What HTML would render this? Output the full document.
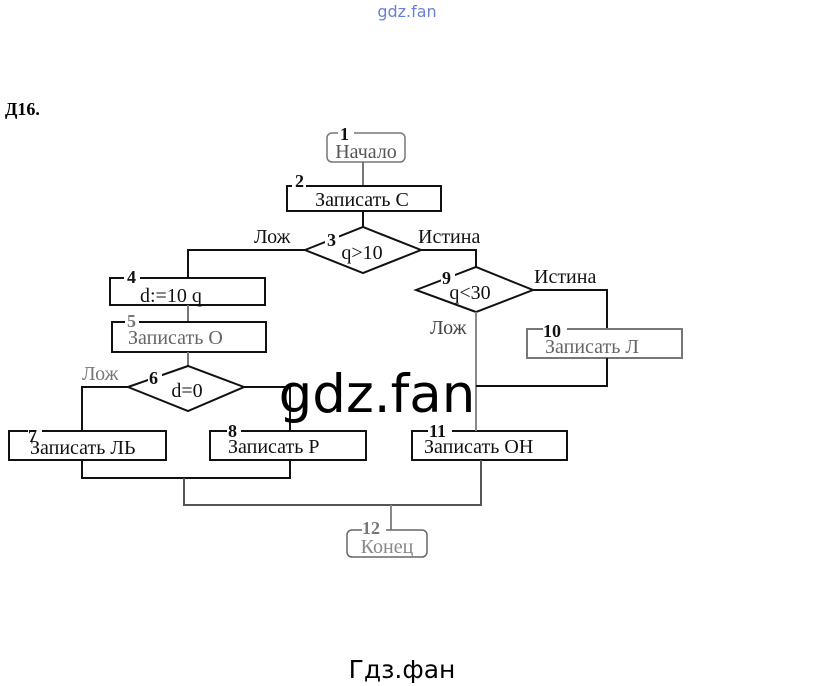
<!DOCTYPE html>
<html><head><meta charset="utf-8"><style>
html,body{margin:0;padding:0;background:#fff;width:815px;height:686px;overflow:hidden}
svg{display:block}
.t{font-family:"Liberation Serif",serif;font-size:20px;fill:#111}
.n{font-family:"Liberation Serif",serif;font-size:18px;font-weight:bold;fill:#111}
</style></head><body>
<svg width="815" height="686" viewBox="0 0 815 686" xmlns="http://www.w3.org/2000/svg">
<text x="407" y="17" text-anchor="middle" font-family="DejaVu Sans,sans-serif" font-size="16" fill="#6a7fd8">gdz.fan</text>
<text x="5" y="115" font-family="Liberation Serif,serif" font-size="18" font-weight="bold">Д16.</text>
<g fill="none" stroke="#111" stroke-width="2">
<rect x="327" y="133" width="78" height="29" rx="5" stroke="#777" stroke-width="1.5"/>
<line x1="363" y1="162" x2="363" y2="186" stroke="#777"/>
<rect x="287" y="186" width="154" height="25"/>
<line x1="363" y1="211" x2="363" y2="228"/>
<polygon points="305,250 363,227 421,250 363,273"/>
<polyline points="305,250 188,250 188,278"/>
<polyline points="421,250 476,250 476,267"/>
<rect x="110" y="278" width="155" height="27"/>
<line x1="188" y1="305" x2="188" y2="322" stroke="#777"/>
<rect x="112" y="322" width="154" height="30"/>
<line x1="188" y1="352" x2="188" y2="367" stroke="#777"/>
<polygon points="128,387 188,366 244,387 188,411"/>
<polyline points="128,387 82,387 82,431"/>
<polyline points="244,387 290,387 290,431"/>
<rect x="9" y="431" width="157" height="29"/>
<rect x="210" y="431" width="156" height="29"/>
<rect x="412" y="431" width="155" height="29"/>
<polygon points="416,290 476,267 533,290 476,312"/>
<polyline points="533,290 607,290 607,329"/>
<rect x="527" y="329" width="155" height="29" stroke="#777"/>
<line x1="476" y1="312" x2="476" y2="431" stroke="#888"/>
<polyline points="607,358 607,386 476,386"/>
<polyline points="82,460 82,478 290,478 290,460"/>
<polyline points="184,478 184,505 481,505 481,460" stroke="#555"/>
<line x1="391" y1="505" x2="391" y2="530" stroke="#888"/>
<rect x="347" y="530" width="80" height="27" rx="5" stroke="#666" stroke-width="1.5"/>
</g>
<g fill="#fff">
<rect x="338" y="126" width="16" height="14"/><rect x="292" y="176" width="14" height="14"/>
<rect x="325" y="232" width="14" height="16"/><rect x="124" y="270" width="16" height="14"/>
<rect x="125" y="313" width="14" height="14"/><rect x="148" y="370" width="14" height="14"/>
<rect x="28" y="424" width="14" height="14"/><rect x="227" y="424" width="14" height="14"/>
<rect x="428" y="422" width="24" height="14"/><rect x="441" y="270" width="14" height="14"/>
<rect x="543" y="322" width="24" height="14"/><rect x="362" y="522" width="24" height="14"/>
</g>
<text class="n" x="340" y="140">1</text>
<text class="t" x="366" y="158" text-anchor="middle" font-size="16" style="fill:#555">Начало</text>
<text class="n" x="295" y="187">2</text>
<text class="t" x="362" y="206" text-anchor="middle">Записать С</text>
<text class="n" x="327" y="246">3</text>
<text class="t" x="362" y="259" text-anchor="middle">q&gt;10</text>
<text class="t" x="254" y="243">Лож</text>
<text class="t" x="418" y="243">Истина</text>
<text class="n" x="127" y="283">4</text>
<text class="t" x="140" y="302">d:=10 q</text>
<text class="n" x="127" y="327" style="fill:#777">5</text>
<text class="t" x="128" y="344" style="fill:#666">Записать О</text>
<text class="n" x="149" y="384">6</text>
<text class="t" x="187" y="397" text-anchor="middle">d=0</text>
<text class="t" x="82" y="380" font-size="15" style="fill:#777">Лож</text>
<text class="n" x="28" y="442">7</text>
<text class="t" x="30" y="454">Записать ЛЬ</text>
<text class="n" x="228" y="437">8</text>
<text class="t" x="228" y="453">Записать Р</text>
<text class="n" x="429" y="437">11</text>
<text class="t" x="424" y="453">Записать ОН</text>
<text class="n" x="442" y="284">9</text>
<text class="t" x="470" y="299" text-anchor="middle">q&lt;30</text>
<text class="t" x="534" y="283">Истина</text>
<text class="t" x="430" y="334" style="fill:#444">Лож</text>
<text class="n" x="543" y="337">10</text>
<text class="t" x="545" y="353" style="fill:#666">Записать Л</text>
<text class="n" x="362" y="534" style="fill:#777">12</text>
<text class="t" x="387" y="553" text-anchor="middle" font-size="15" style="fill:#888">Конец</text>
<text x="377" y="412" text-anchor="middle" font-family="DejaVu Sans,sans-serif" font-size="53" fill="#000">gdz.fan</text>
<text x="402" y="678" text-anchor="middle" font-family="DejaVu Sans,sans-serif" font-size="25" fill="#000">Гдз.фан</text>
</svg>
</body></html>
